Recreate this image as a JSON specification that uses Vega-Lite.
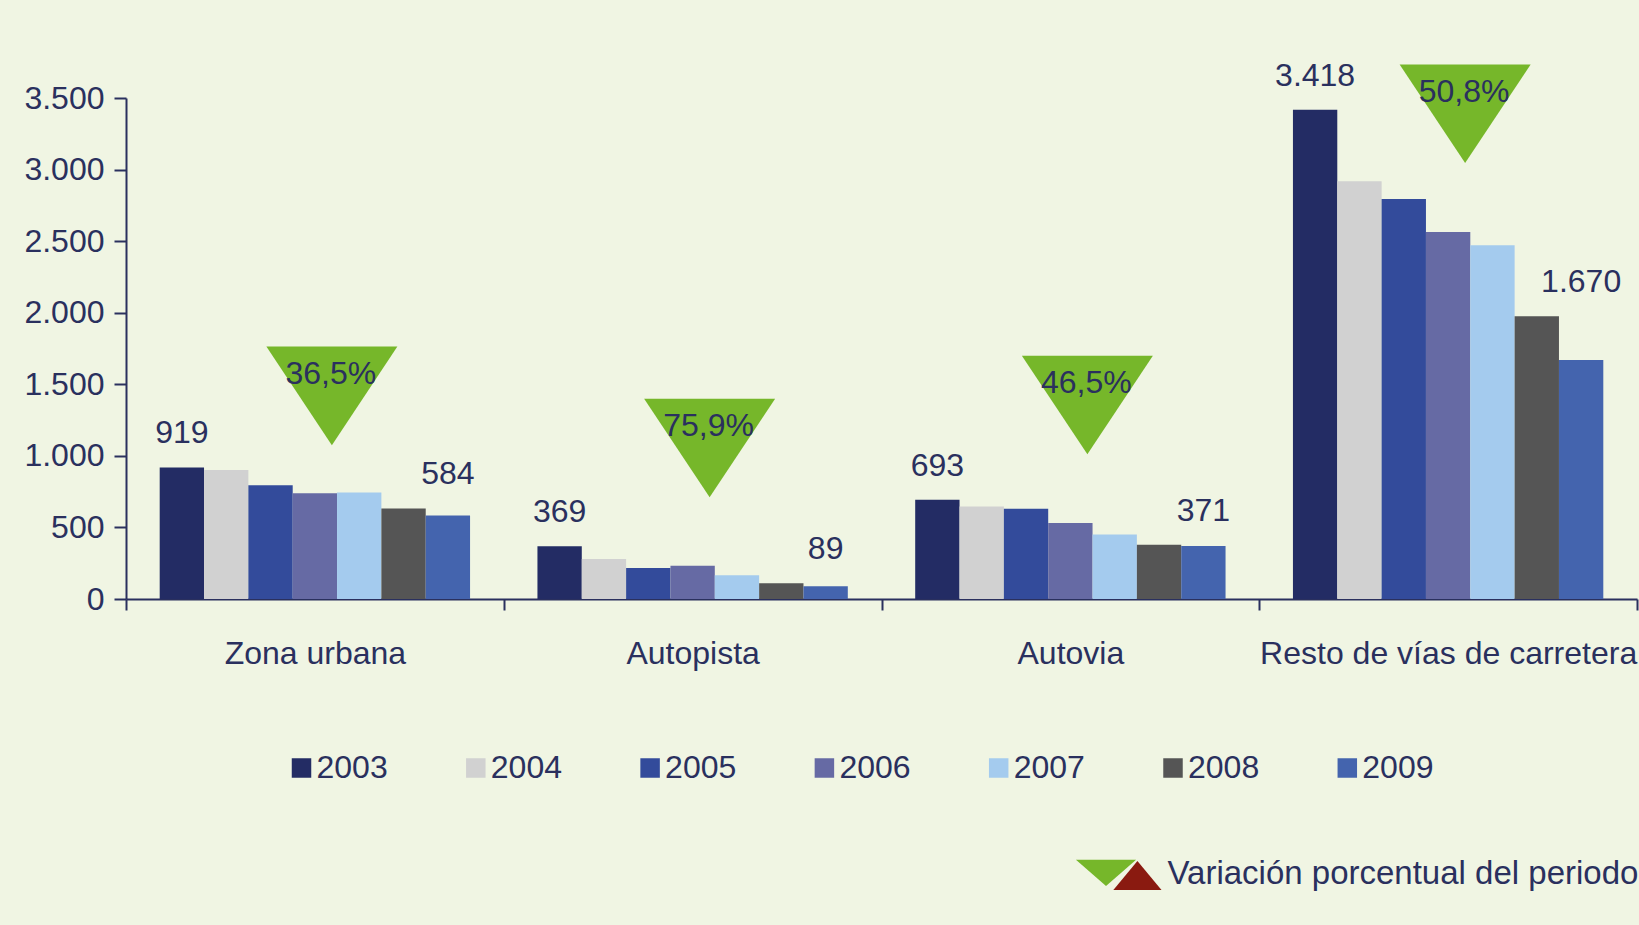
{
  "$schema": "https://vega.github.io/schema/vega-lite/v6.json",
  "width": 1511,
  "height": 501,
  "autosize": {"type": "none"},
  "padding": {"left": 126, "top": 98, "right": 2, "bottom": 326},
  "background": "#f0f5e3",
  "datasets": {
    "barras": [
      {"categoria": "Zona urbana", "anio": "2003", "valor": 919},
      {"categoria": "Zona urbana", "anio": "2004", "valor": 901},
      {"categoria": "Zona urbana", "anio": "2005", "valor": 795},
      {"categoria": "Zona urbana", "anio": "2006", "valor": 738},
      {"categoria": "Zona urbana", "anio": "2007", "valor": 744},
      {"categoria": "Zona urbana", "anio": "2008", "valor": 633},
      {"categoria": "Zona urbana", "anio": "2009", "valor": 584},
      {"categoria": "Autopista", "anio": "2003", "valor": 369},
      {"categoria": "Autopista", "anio": "2004", "valor": 280},
      {"categoria": "Autopista", "anio": "2005", "valor": 217},
      {"categoria": "Autopista", "anio": "2006", "valor": 233},
      {"categoria": "Autopista", "anio": "2007", "valor": 166},
      {"categoria": "Autopista", "anio": "2008", "valor": 110},
      {"categoria": "Autopista", "anio": "2009", "valor": 89},
      {"categoria": "Autovia", "anio": "2003", "valor": 693},
      {"categoria": "Autovia", "anio": "2004", "valor": 647},
      {"categoria": "Autovia", "anio": "2005", "valor": 630},
      {"categoria": "Autovia", "anio": "2006", "valor": 531},
      {"categoria": "Autovia", "anio": "2007", "valor": 450},
      {"categoria": "Autovia", "anio": "2008", "valor": 379},
      {"categoria": "Autovia", "anio": "2009", "valor": 371},
      {"categoria": "Resto de vías de carretera", "anio": "2003", "valor": 3418},
      {"categoria": "Resto de vías de carretera", "anio": "2004", "valor": 2919},
      {"categoria": "Resto de vías de carretera", "anio": "2005", "valor": 2794},
      {"categoria": "Resto de vías de carretera", "anio": "2006", "valor": 2564},
      {"categoria": "Resto de vías de carretera", "anio": "2007", "valor": 2472},
      {"categoria": "Resto de vías de carretera", "anio": "2008", "valor": 1975},
      {"categoria": "Resto de vías de carretera", "anio": "2009", "valor": 1670}
    ],
    "triangulos": [
      {"categoria": "Zona urbana", "nivel": 1419, "variacion": "36,5%", "serie": "Variación porcentual del periodo"},
      {"categoria": "Autopista", "nivel": 1055, "variacion": "75,9%", "serie": "Variación porcentual del periodo"},
      {"categoria": "Autovia", "nivel": 1355, "variacion": "46,5%", "serie": "Variación porcentual del periodo"},
      {"categoria": "Resto de vías de carretera", "nivel": 3390, "variacion": "50,8%", "serie": "Variación porcentual del periodo"}
    ]
  },
  "layer": [
    {
      "data": {"name": "barras"},
      "mark": {"type": "bar", "strokeWidth": 0},
      "encoding": {
        "x": {
          "field": "categoria", "type": "nominal",
          "sort": ["Zona urbana", "Autopista", "Autovia", "Resto de vías de carretera"],
          "scale": {"paddingInner": 0, "paddingOuter": 0},
          "axis": {"title": null, "labelAngle": 0, "labelFontSize": 32, "labelLimit": 1000, "tickSize": 11, "tickBand": "extent", "labelBaseline": "alphabetic", "labelPadding": 53}
        },
        "xOffset": {
          "field": "anio", "type": "nominal",
          "scale": {"domain": ["2003", "2004", "2005", "2006", "2007", "2008", "2009"], "paddingInner": 0, "paddingOuter": 0.76}
        },
        "y": {
          "field": "valor", "type": "quantitative",
          "scale": {"domain": [0, 3500], "nice": false},
          "axis": {"title": null, "values": [0, 500, 1000, 1500, 2000, 2500, 3000, 3500], "format": ",d", "labelFontSize": 32, "tickSize": 12, "labelPadding": 10}
        },
        "color": {
          "field": "anio", "type": "nominal",
          "scale": {"domain": ["2003", "2004", "2005", "2006", "2007", "2008", "2009"], "range": ["#232c64", "#d1d1d1", "#334b9b", "#666aa4", "#a4cbee", "#555555", "#4464ae"]},
          "legend": {"orient": "none", "legendX": 159.5, "legendY": 654, "direction": "horizontal", "title": null, "symbolType": "square", "symbolSize": 380, "symbolStrokeWidth": 0, "symbolOpacity": 1, "labelFontSize": 32, "labelOffset": -1, "columnPadding": 71.3, "padding": 0}
        }
      }
    },
    {
      "data": {"name": "barras"},
      "transform": [
        {"window": [{"op": "max", "field": "valor", "as": "tope"}], "frame": [-1, 0], "sort": [{"field": "anio"}], "groupby": ["categoria"]},
        {"filter": "datum.anio == '2003' || datum.anio == '2009'"}
      ],
      "mark": {"type": "text", "baseline": "alphabetic", "dy": -24, "fontSize": 32, "color": "#2a305e"},
      "encoding": {
        "x": {"field": "categoria", "type": "nominal", "sort": ["Zona urbana", "Autopista", "Autovia", "Resto de vías de carretera"]},
        "xOffset": {"field": "anio", "type": "nominal"},
        "y": {"field": "tope", "type": "quantitative"},
        "text": {"field": "valor", "type": "quantitative", "format": ",d"}
      }
    },
    {
      "data": {"name": "triangulos"},
      "mark": {"type": "point", "shape": "M-1,-0.752L1,-0.752L0,0.752Z", "size": 17161, "filled": true, "opacity": 1, "strokeWidth": 0, "xOffset": 17},
      "encoding": {
        "x": {"field": "categoria", "type": "nominal", "sort": ["Zona urbana", "Autopista", "Autovia", "Resto de vías de carretera"]},
        "y": {"field": "nivel", "type": "quantitative"},
        "fill": {
          "field": "serie", "type": "nominal",
          "scale": {"range": ["#76b72a"]},
          "legend": {"orient": "none", "legendX": 949.5, "legendY": 733, "title": null, "symbolType": "M-0.99,-0.33L0.41,-0.33L-0.29,0.28Z", "symbolSize": 7396, "symbolStrokeWidth": 0, "labelFontSize": 33, "labelOffset": 6, "padding": 0}
        },
        "opacity": {
          "datum": " ", "type": "nominal",
          "scale": {"range": [1, 1]},
          "legend": {"orient": "none", "legendX": 949.5, "legendY": 733, "title": null, "symbolType": "M-0.12,0.37L0.44,-0.30L1,0.37Z", "symbolSize": 7396, "symbolFillColor": "#8a1a10", "symbolStrokeWidth": 0, "labelFontSize": 33, "labelColor": "transparent", "labelOffset": 6, "padding": 0}
        }
      }
    },
    {
      "data": {"name": "triangulos"},
      "mark": {"type": "text", "fontSize": 32, "color": "#2a305e", "dy": -22, "xOffset": 16, "baseline": "middle"},
      "encoding": {
        "x": {"field": "categoria", "type": "nominal", "sort": ["Zona urbana", "Autopista", "Autovia", "Resto de vías de carretera"]},
        "y": {"field": "nivel", "type": "quantitative"},
        "text": {"field": "variacion", "type": "nominal"}
      }
    }
  ],
  "config": {
    "view": {"stroke": null},
    "font": "Liberation Sans",
    "locale": {"number": {"decimal": ",", "thousands": ".", "grouping": [3], "currency": ["", " €"]}},
    "axis": {"labelFont": "Liberation Sans", "labelColor": "#2a305e", "domainColor": "#2a305e", "tickColor": "#2a305e", "domainWidth": 2, "tickWidth": 2, "grid": false},
    "legend": {"labelFont": "Liberation Sans", "labelColor": "#2a305e", "labelLimit": 800}
  }
}
